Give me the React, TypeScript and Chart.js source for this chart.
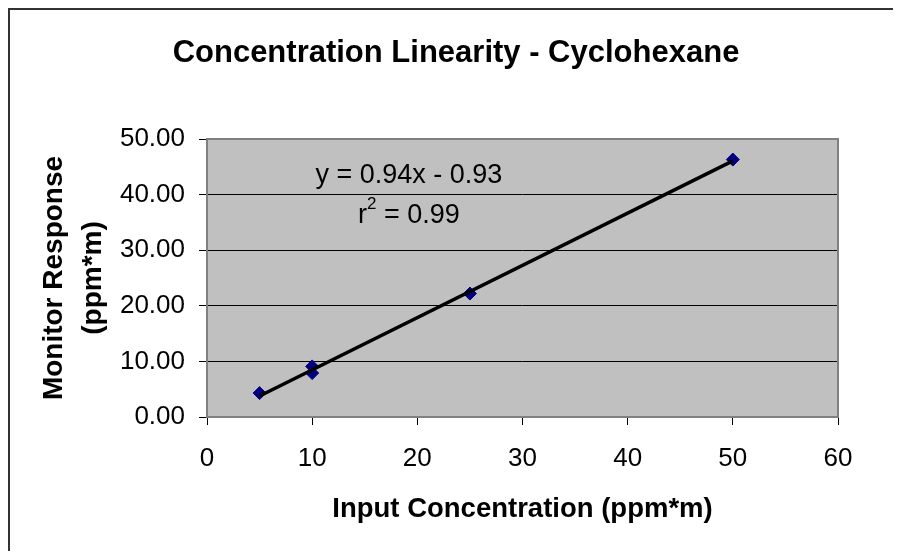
import { useEffect, useRef } from 'react';
import { Chart, registerables } from 'chart.js';

Chart.register(...registerables);

const FONT = '"Liberation Sans", Arial, Helvetica, sans-serif';

const TITLE = 'Concentration Linearity - Cyclohexane';
const X_TITLE = 'Input Concentration (ppm*m)';
const Y_TITLE = ['Monitor Response', '(ppm*m)'];

const INPUT_CONC = [5, 10, 10, 25, 50];
const MONITOR_RESPONSE = [4.3, 9.1, 7.9, 22.2, 46.3];

const TREND_SLOPE = 0.94;
const TREND_INTERCEPT = -0.93;
const TREND_X = [5, 50];

const X_TICK_LABELS = ['0', '10', '20', '30', '40', '50', '60'];
const Y_TICK_LABELS = ['0.00', '10.00', '20.00', '30.00', '40.00', '50.00'];

const EQUATION = 'y = 0.94x - 0.93';
const R2_TEXT = ' = 0.99';
const EQ_POS = { x: 19.2, y1: 43.4, y2: 36.3 };

const decor = {
  id: 'decor',
  beforeDraw(chart: any) {
    const { ctx, chartArea: a } = chart;
    ctx.save();
    ctx.fillStyle = '#ffffff';
    ctx.fillRect(0, 0, chart.width, chart.height);
    ctx.strokeStyle = '#333333';
    ctx.lineWidth = 2;
    ctx.beginPath();
    ctx.moveTo(1, chart.height);
    ctx.lineTo(1, 1);
    ctx.lineTo(chart.width, 1);
    ctx.stroke();
    ctx.fillStyle = '#c0c0c0';
    ctx.fillRect(a.left, a.top, a.right - a.left, a.bottom - a.top);
    ctx.fillStyle = '#000000';
    ctx.font = `bold 31px ${FONT}`;
    ctx.textAlign = 'center';
    ctx.textBaseline = 'middle';
    ctx.fillText(TITLE, 448, 45);
    ctx.restore();
  },
  beforeDatasetsDraw(chart: any) {
    const { ctx, chartArea: a, scales } = chart;
    ctx.save();
    ctx.strokeStyle = '#808080';
    ctx.lineWidth = 2;
    ctx.strokeRect(a.left, a.top, a.right - a.left, a.bottom - a.top);
    const cx = scales.x.getPixelForValue(EQ_POS.x);
    const y1 = scales.y.getPixelForValue(EQ_POS.y1);
    const y2 = scales.y.getPixelForValue(EQ_POS.y2);
    ctx.fillStyle = '#000000';
    ctx.textBaseline = 'middle';
    ctx.textAlign = 'center';
    ctx.font = `27px ${FONT}`;
    ctx.fillText(EQUATION, cx, y1);
    const supFont = `17px ${FONT}`;
    ctx.font = `27px ${FONT}`;
    const wr = ctx.measureText('r').width;
    const wrest = ctx.measureText(R2_TEXT).width;
    ctx.font = supFont;
    const w2 = ctx.measureText('2').width;
    const total = wr + w2 + wrest;
    let x = cx - total / 2;
    ctx.textAlign = 'left';
    ctx.font = `27px ${FONT}`;
    ctx.fillText('r', x, y2);
    x += wr;
    ctx.font = supFont;
    ctx.fillText('2', x, y2 - 11);
    x += w2;
    ctx.font = `27px ${FONT}`;
    ctx.fillText(R2_TEXT, x, y2);
    ctx.restore();
  },
};

export default function App() {
  const ref = useRef<HTMLCanvasElement | null>(null);
  useEffect(() => {
    if (!ref.current) return;
    const points = INPUT_CONC.map((x, i) => ({ x, y: MONITOR_RESPONSE[i] }));
    const trend = TREND_X.map((x) => ({ x, y: TREND_SLOPE * x + TREND_INTERCEPT }));
    const chart = new Chart(ref.current, {
      type: 'scatter',
      data: {
        datasets: [
          {
            label: 'Trend',
            data: trend,
            showLine: true,
            borderColor: '#000000',
            borderWidth: 3.5,
            pointRadius: 0,
            order: 0,
          },
          {
            label: 'Response',
            data: points,
            pointStyle: 'rectRot',
            pointRadius: 6.5,
            backgroundColor: '#000080',
            borderColor: '#000080',
            borderWidth: 1,
            order: 1,
          },
        ],
      },
      options: {
        animation: false,
        responsive: false,
        layout: { padding: { top: 131, right: 63, bottom: 0, left: 0 } },
        plugins: {
          legend: { display: false },
          tooltip: { enabled: false },
          title: { display: false },
        },
        scales: {
          x: {
            type: 'linear',
            min: 0,
            max: 60,
            afterFit: (s: any) => {
              s.height = 134;
            },
            ticks: {
              stepSize: 10,
              padding: 18,
              color: '#000000',
              font: { family: FONT, size: 26 },
              callback: (_v: any, i: number) => X_TICK_LABELS[i],
              maxRotation: 0,
            },
            grid: {
              drawOnChartArea: false,
              drawTicks: true,
              tickLength: 8,
              color: '#000000',
            },
            border: { display: false },
            title: {
              display: true,
              text: X_TITLE,
              color: '#000000',
              font: { family: FONT, size: 27.5, weight: 'bold', lineHeight: 1.2 },
              padding: { top: 0, bottom: 25 },
            },
          },
          y: {
            type: 'linear',
            min: 0,
            max: 50,
            afterFit: (s: any) => {
              s.width = 199;
            },
            ticks: {
              stepSize: 10,
              padding: 14,
              color: '#000000',
              font: { family: FONT, size: 26 },
              callback: (_v: any, i: number) => Y_TICK_LABELS[i],
            },
            grid: {
              drawTicks: true,
              tickLength: 8,
              color: '#000000',
              lineWidth: 1,
            },
            border: { display: false },
            title: {
              display: true,
              text: Y_TITLE,
              color: '#000000',
              font: { family: FONT, size: 28, weight: 'bold', lineHeight: 1.38 },
              padding: { top: 27, bottom: 0 },
            },
          },
        },
      },
      plugins: [decor],
    });
    return () => chart.destroy();
  }, []);
  return (
    <div style={{ width: 893, height: 543, overflow: 'hidden' }}>
      <canvas ref={ref} width={893} height={543} style={{ display: 'block' }} />
    </div>
  );
}
